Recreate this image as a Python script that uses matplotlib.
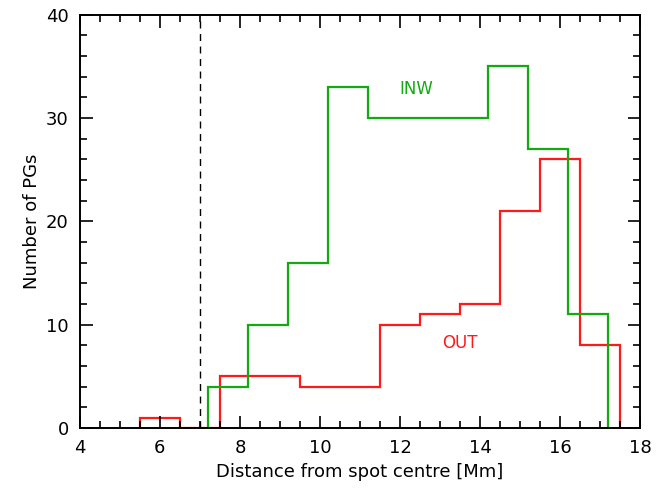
import numpy as np
import matplotlib.pyplot as plt
from matplotlib.ticker import MultipleLocator

# INW histogram (bins of 1 Mm starting at 7.2)
inw_edges = [7.2, 8.2, 9.2, 10.2, 11.2, 12.2, 13.2, 14.2, 15.2, 16.2, 17.2]
inw_counts = [4, 10, 16, 33, 30, 30, 30, 35, 27, 11]

# OUT histogram (bins of 1 Mm starting at 5.5)
out_edges = [5.5, 6.5, 7.5, 8.5, 9.5, 10.5, 11.5, 12.5, 13.5, 14.5, 15.5, 16.5, 17.5]
out_counts = [1, 0, 5, 5, 4, 4, 10, 11, 12, 21, 26, 8]

green = '#11aa11'
red = '#ff1a1a'

fig = plt.figure(figsize=(6.66, 4.92), dpi=100)
ax = fig.add_axes([0.12, 0.13, 0.841, 0.84])

ax.stairs(out_counts, out_edges, color=red, lw=1.6, baseline=0)
ax.stairs(inw_counts, inw_edges, color=green, lw=1.6, baseline=0)
ax.axvline(7.0, color='black', ls=(0, (5, 4)), lw=1.0)

ax.text(12.4, 32.8, 'INW', color=green, fontsize=12, ha='center', va='center')
ax.text(13.5, 8.2, 'OUT', color=red, fontsize=12, ha='center', va='center')

ax.set_xlim(4, 18)
ax.set_ylim(0, 40)
ax.xaxis.set_major_locator(MultipleLocator(2))
ax.xaxis.set_minor_locator(MultipleLocator(0.5))
ax.yaxis.set_major_locator(MultipleLocator(10))
ax.yaxis.set_minor_locator(MultipleLocator(2))
ax.tick_params(which='both', direction='in', top=True, right=True, labelsize=13, width=1.2)
ax.tick_params(which='major', length=9, pad=8)
ax.tick_params(which='minor', length=5)
for s in ax.spines.values():
    s.set_linewidth(1.4)

ax.set_xlabel('Distance from spot centre [Mm]', fontsize=13)
ax.set_ylabel('Number of PGs', fontsize=13)

fig.savefig('out.png', dpi=100)
